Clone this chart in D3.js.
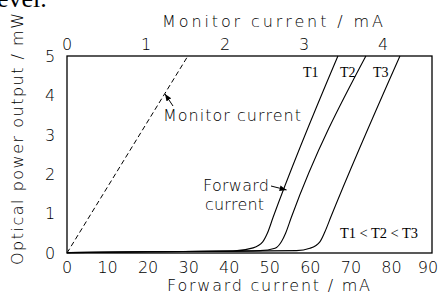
<!DOCTYPE html>
<html><head><meta charset="utf-8">
<script src="https://cdn.jsdelivr.net/npm/d3@7"></script>
<style>
html,body{margin:0;padding:0;background:#fff;}
svg{display:block;}
.sans{font-family:"DejaVu Sans",sans-serif;font-weight:200;font-size:16px;fill:#000;}
.serif{font-family:"Liberation Serif","Times New Roman",serif;fill:#000;}
</style></head>
<body>
<svg id="c" width="438" height="293"></svg>
<script>
// ---- data ----
const forwardTicks = [0,10,20,30,40,50,60,70,80,90];      // mA
const monitorTicks = [0,1,2,3,4];                          // mA
const powerTicks = [0,1,2,3,4,5];                          // mW
// forward current (mA) vs optical power (mW)
const curveT1 = [[0,0.01],[20,0.03],[40.9,0.05],[45.9,0.13],[48.3,0.29],[49.4,0.5],[50.8,0.9],[66.8,5]];
const curveT2 = [[0,0.01],[20,0.03],[47.6,0.06],[51.3,0.12],[52.9,0.29],[53.9,0.5],[55.3,0.9],[73.7,5]];
const curveT3 = [[0,0.01],[20,0.03],[56.6,0.06],[59.9,0.12],[62.4,0.29],[63.6,0.54],[65.0,0.9],[82.1,5]];
// monitor current (mA) vs optical power (mW)
const monitorLine = [[0,0],[1.53,5]];
const curveNames = ["T1","T2","T3"];

// ---- drawing ----
const svg = d3.select("#c");
const L=67, R=432, T=56, B=253;
const x = d3.scaleLinear().domain([0,90]).range([L,R]);
const xTop = d3.scaleLinear().domain([0,4.62]).range([L,R]);
const y = d3.scaleLinear().domain([0,5]).range([B,T]);

// partial document text at top-left
svg.append("text").attr("class","serif").attr("x",-3).attr("y",7)
  .style("font-size","26px").text("evel.");

svg.append("defs").append("marker").attr("id","ah")
  .attr("viewBox","0 0 10 10").attr("refX",10).attr("refY",5)
  .attr("markerWidth",7).attr("markerHeight",7).attr("orient","auto")
  .attr("markerUnits","userSpaceOnUse")
  .append("path").attr("d","M0,1 L10,5 L0,9 Z").attr("fill","#000");

// frame
svg.append("rect").attr("x",L).attr("y",T).attr("width",R-L).attr("height",B-T)
  .attr("fill","none").attr("stroke","#000").attr("stroke-width",1.3);

// tick labels
svg.append("g").selectAll("text").data(forwardTicks).join("text")
  .attr("class","sans").attr("text-anchor","middle")
  .attr("x",d=>Math.min(x(d),428)).attr("y",273).text(d=>d);
svg.append("g").selectAll("text").data(monitorTicks).join("text")
  .attr("class","sans").attr("text-anchor","middle")
  .attr("x",d=>xTop(d)).attr("y",50).text(d=>d);
svg.append("g").selectAll("text").data(powerTicks).join("text")
  .attr("class","sans").attr("text-anchor","middle")
  .attr("x",50).attr("y",d=>y(d)).attr("dy","0.36em").text(d=>d);

// axis titles
svg.append("text").attr("class","sans").attr("x",162).attr("y",27)
  .attr("textLength",221).attr("lengthAdjust","spacing").text("Monitor current / mA");
svg.append("text").attr("class","sans").attr("x",167).attr("y",291)
  .attr("textLength",203).attr("lengthAdjust","spacing").text("Forward current / mA");
svg.append("text").attr("class","sans").attr("text-anchor","middle")
  .attr("transform","translate(23,139) rotate(-90)")
  .attr("textLength",252).attr("lengthAdjust","spacing").text("Optical power output / mW");

// curves
const line = d3.line().x(d=>x(d[0])).y(d=>y(d[1])).curve(d3.curveMonotoneX);
[curveT1,curveT2,curveT3].forEach(c=>{
  svg.append("path").datum(c).attr("d",line).attr("fill","none")
    .attr("stroke","#000").attr("stroke-width",1.1);
});
const mline = d3.line().x(d=>xTop(d[0])).y(d=>y(d[1]));
svg.append("path").datum(monitorLine).attr("d",mline).attr("fill","none")
  .attr("stroke","#000").attr("stroke-width",1).attr("stroke-dasharray","5,3");

// curve labels
const labelX = [303,340,373];
svg.append("g").selectAll("text").data(curveNames).join("text")
  .attr("class","serif").style("font-size","14px")
  .attr("x",(d,i)=>labelX[i]).attr("y",77).text(d=>d);
svg.append("text").attr("class","serif").style("font-size","14px")
  .attr("x",340).attr("y",238).attr("textLength",78).attr("lengthAdjust","spacingAndGlyphs")
  .text("T1 < T2 < T3");

// annotations
svg.append("text").attr("class","sans").attr("x",163).attr("y",121)
  .attr("textLength",138).attr("lengthAdjust","spacing").text("Monitor current");
svg.append("line").attr("x1",173).attr("y1",106).attr("x2",165).attr("y2",94)
  .attr("stroke","#000").attr("stroke-width",1).attr("marker-end","url(#ah)");

svg.append("text").attr("class","sans").attr("x",203).attr("y",191)
  .attr("textLength",66).attr("lengthAdjust","spacing").text("Forward");
svg.append("text").attr("class","sans").attr("x",205).attr("y",210)
  .attr("textLength",59).attr("lengthAdjust","spacing").text("current");
svg.append("line").attr("x1",271).attr("y1",186).attr("x2",x(53.9)+1).attr("y2",y(1.6))
  .attr("stroke","#000").attr("stroke-width",1).attr("marker-end","url(#ah)");
</script>
</body></html>
